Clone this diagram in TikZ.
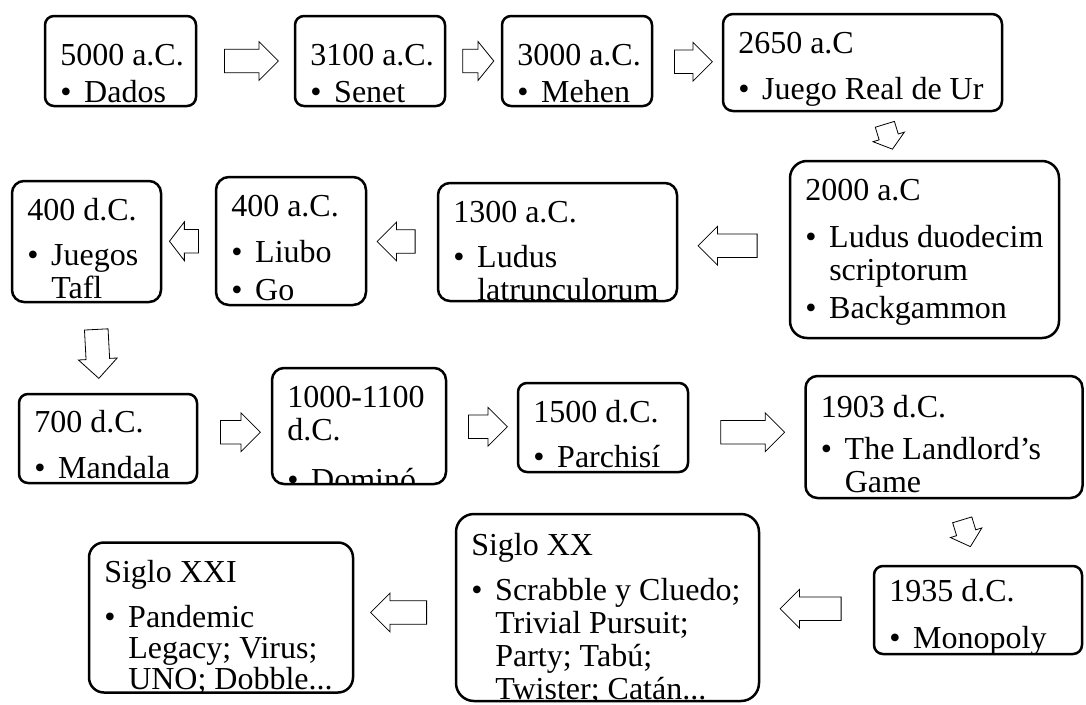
\documentclass[tikz,border=0pt]{standalone}
\usepackage{fontspec}
\setmainfont{Liberation Serif}
\usetikzlibrary{positioning,shapes.arrows,calc}

\newcommand{\fuente}{\fontsize{32}{33}\selectfont}
\newcommand{\punto}[2]{\par\vspace{#1pt}\hangindent=24pt\hangafter=1\noindent\makebox[24pt][l]{\textbullet}#2}

\begin{document}
\begin{tikzpicture}[
  x=1pt, y=-1pt,
  caja/.style={draw,line width=2.5pt,rounded corners=9pt,inner sep=0pt},
  texto/.style 2 args={path picture={\node[draw=none,fill=none,anchor=base west,inner sep=0pt]
      at ([shift={(14,#1)}]path picture bounding box.north west)
      {\parbox[t]{400pt}{\fuente\raggedright #2}};}},
  flecha/.style={single arrow,draw,fill=white,line width=0.8pt,inner xsep=0pt,inner ysep=11.4pt,
      single arrow head extend=7.6pt},
  chica/.style={inner ysep=9.6pt,single arrow head extend=6.4pt}
    ]
\useasboundingbox (0,0) rectangle (1086,704);

% boxes
\node[caja,minimum width=151pt,minimum height=90pt,texto={49}{5000 a.C.\punto{4}{Dados}}] (dados) at (120.5,61) {};
\node[caja,minimum width=150pt,minimum height=90pt,texto={49}{3100 a.C.\punto{4}{Senet}}] (senet) at (370,61) {};
\node[caja,minimum width=150pt,minimum height=90pt,texto={49}{3000 a.C.\punto{4}{Mehen}}] (mehen) at (577,61) {};
\node[caja,rounded corners=10pt,minimum width=279pt,minimum height=97pt,texto={39}{2650 a.C\punto{13}{Juego Real de Ur}}] (ur) at (862.5,62.5) {};
\node[caja,rounded corners=17pt,minimum width=269pt,minimum height=177pt,
  texto={39}{2000 a.C\punto{14}{Ludus duodecim\newline scriptorum}\punto{5}{Backgammon}}] (ludus) at (924.5,249.5) {};
\node[caja,rounded corners=12pt,minimum width=239pt,minimum height=118pt,
  texto={39}{1300 a.C.\punto{12}{Ludus\newline latrunculorum}}] (latrun) at (557.5,242) {};
\node[caja,rounded corners=13pt,minimum width=150pt,minimum height=128pt,
  texto={39}{400 a.C.\punto{13}{Liubo}\punto{5}{Go}}] (liubo) at (291,241) {};
\node[caja,rounded corners=12pt,minimum width=149pt,minimum height=121pt,
  texto={39}{400 d.C.\punto{12}{Juegos\newline Tafl}}] (tafl) at (86.5,241.5) {};
\node[caja,minimum width=178pt,minimum height=89pt,texto={38}{700 d.C.\punto{13}{Mandala}}] (mandala) at (108,438.5) {};
\node[caja,rounded corners=12pt,minimum width=174pt,minimum height=116pt,
  texto={39}{1000-1100\newline d.C.\punto{17}{Dominó}}] (domino) at (359,426) {};
\node[caja,minimum width=170pt,minimum height=89pt,texto={39}{1500 d.C.\punto{12}{Parchisí}}] (parchis) at (603,427.5) {};
\node[caja,rounded corners=12pt,minimum width=277pt,minimum height=122pt,
  texto={41}{1903 d.C.\punto{9}{The Landlord’s\newline Game}}] (landlord) at (944,437) {};
\node[caja,minimum width=208pt,minimum height=88pt,texto={35}{1935 d.C.\punto{14}{Monopoly}}] (monopoly) at (978,610) {};
\node[caja,rounded corners=18pt,minimum width=303pt,minimum height=187pt,
  texto={41}{Siglo XX\punto{12}{Scrabble y Cluedo;\newline Trivial Pursuit;\newline Party; Tabú;\newline Twister; Catán...}}] (xx) at (607.5,607.5) {};
\node[caja,rounded corners=15pt,minimum width=264pt,minimum height=150pt,
  texto={40}{\fontsize{32}{31}\selectfont Siglo XXI\punto{14}{Pandemic\newline Legacy; Virus;\newline UNO; Dobble...}}] (xxi) at (221,617.5) {};

% arrows
\node[flecha,minimum height=54pt] (f1) at ($(dados.east)!.5!(senet.west)$) {};
\node[flecha,minimum height=31pt,single arrow tip angle=102] (f2) at ($(senet.east)!.5!(mehen.west)$) {};
\node[flecha,minimum height=38pt] (f3) at ($(mehen.east)!.5!(ur.west)$) {};
\node[flecha,chica,minimum height=26pt,single arrow tip angle=104,rotate=-73] (f4) at ($(ur.south)!.5!(ludus.north)+(-6,-3)$) {};
\node[flecha,minimum height=59pt,rotate=180] (f5) at ($(ludus.west)!.5!(latrun.east)$) {};
\node[flecha,minimum height=38pt,rotate=180] (f6) at ($(latrun.west)!.5!(liubo.east)$) {};
\node[flecha,minimum height=29pt,single arrow tip angle=105,rotate=180] (f7) at ($(liubo.west)!.5!(tafl.east)$) {};
\node[flecha,minimum height=49pt,rotate=-87] (f8) at ($(tafl.south)!.5!(mandala.north)$) {};
\node[flecha,minimum height=40pt] (f9) at ($(mandala.east)!.5!(domino.west)$) {};
\node[flecha,minimum height=39pt] (f10) at ($(domino.east)!.5!(parchis.west)$) {};
\node[flecha,minimum height=64pt] (f11) at ($(parchis.east)!.5!(landlord.west)$) {};
\node[flecha,chica,minimum height=28pt,single arrow tip angle=97,rotate=-73] (f12) at ($(landlord.south)!.5!(monopoly.north)+(4,-3)$) {};
\node[flecha,minimum height=61pt,rotate=180] (f13) at ($(monopoly.west)!.5!(xx.east)$) {};
\node[flecha,minimum height=56pt,rotate=180] (f14) at ($(xx.west)!.5!(xxi.east)$) {};
\end{tikzpicture}
\end{document}
